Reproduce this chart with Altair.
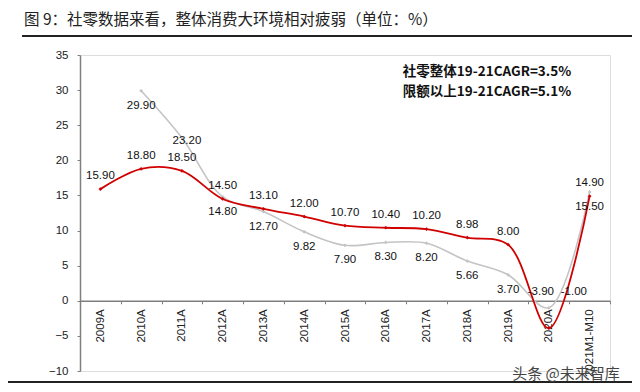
import altair as alt
import pandas as pd

categories = ["2009A", "2010A", "2011A", "2012A", "2013A", "2014A", "2015A",
              "2016A", "2017A", "2018A", "2019A", "2020A", "2021M1-M10"]
red_values = [15.90, 18.80, 18.50, 14.50, 13.10, 12.00, 10.70, 10.40, 10.20, 8.98, 8.00, -3.90, 14.90]
gray_values = [None, 29.90, 23.20, 14.80, 12.70, 9.82, 7.90, 8.30, 8.20, 5.66, 3.70, -1.00, 15.50]
y_ticks = [-10, -5, 0, 5, 10, 15, 20, 25, 30, 35]

title_text = "图 9：社零数据来看，整体消费大环境相对疲弱（单位：%）"
note_lines = ["社零整体19-21CAGR=3.5%", "限额以上19-21CAGR=5.1%"]
watermark = "头条 @未来智库"

W, H = 530, 316
YMIN, YMAX = -10, 35
RED = "#d00000"
GRAY = "#c4c4c4"
FONT = "Liberation Sans"
CJK = "Noto Sans CJK SC"

red_df = pd.DataFrame({"cat": categories, "v": red_values})
red_df["lab"] = red_df["v"].map(lambda x: f"{x:.2f}")
gray_df = pd.DataFrame({"cat": categories, "v": gray_values}).dropna()
gray_df["lab"] = gray_df["v"].map(lambda x: f"{x:.2f}")

zero_offset = -(H - H * (YMAX - 0) / (YMAX - YMIN))

x_enc = alt.X("cat:N", sort=categories,
              scale=alt.Scale(type="band", paddingInner=0, paddingOuter=0),
              axis=alt.Axis(title=None, labelAngle=270, offset=zero_offset,
                            tickBand="extent", domainColor="#7f7f7f", domainWidth=1.5,
                            tickColor="#7f7f7f", tickSize=3, labelFont=FONT,
                            labelFontSize=11.5, labelColor="#222", labelPadding=5,
                            labelOverlap=False))
y_enc = alt.Y("v:Q", scale=alt.Scale(domain=[YMIN, YMAX], nice=False, zero=False),
              axis=alt.Axis(title=None, values=y_ticks, grid=False, domainColor="#7f7f7f",
                            domainWidth=1.5, tickColor="#7f7f7f", tickSize=3,
                            labelFont=FONT, labelFontSize=11.5, labelColor="#222",
                            labelPadding=9, labelOverlap=False))

base_red = alt.Chart(red_df)
base_gray = alt.Chart(gray_df)

gray_line = base_gray.mark_line(color=GRAY, strokeWidth=1.6, interpolate="catmull-rom").encode(x=x_enc, y=y_enc)
gray_pts = base_gray.mark_point(color=GRAY, filled=True, size=14, shape="diamond", opacity=1).encode(x=x_enc, y=y_enc)
red_line = base_red.mark_line(color=RED, strokeWidth=1.8, interpolate="catmull-rom").encode(x=x_enc, y=y_enc)
red_pts = base_red.mark_point(color=RED, filled=True, size=14, shape="diamond", opacity=1).encode(x=x_enc, y=y_enc)

def labels(df, dx, dy):
    return alt.Chart(df).mark_text(font=FONT, fontSize=11.5, color="#111", dx=dx, dy=dy).encode(
        x=x_enc, y=y_enc, text="lab:N")

special_red = ["2020A"]
special_gray = ["2011A", "2020A"]
red_lab = labels(red_df[~red_df["cat"].isin(special_red)], 0, -13)
gray_lab = labels(gray_df[~gray_df["cat"].isin(special_gray)], 0, 15)
red_lab_2020 = labels(red_df[red_df["cat"] == "2020A"], -8, -36)
gray_lab_2011 = labels(gray_df[gray_df["cat"] == "2011A"], 5, 3)
gray_lab_2020 = labels(gray_df[gray_df["cat"] == "2020A"], 25, -16)

def free_text(txt, x, y, **kw):
    return alt.Chart(pd.DataFrame({"t": [txt]})).mark_text(**kw).encode(
        x=alt.value(x), y=alt.value(y), text="t:N")

title = free_text(title_text, -56, -35, font=CJK, fontSize=15.5, color="#222",
                  align="left", baseline="middle")
title_rule = alt.Chart(pd.DataFrame({"a": [0]})).mark_rule(color="#222", strokeWidth=2).encode(
    x=alt.value(-58), x2=alt.value(560), y=alt.value(-19))
bottom_rule = alt.Chart(pd.DataFrame({"a": [0]})).mark_rule(color="#222", strokeWidth=2).encode(
    x=alt.value(-72), x2=alt.value(552), y=alt.value(327))

note1 = free_text(note_lines[0], 407, 17, font=CJK, fontSize=13.5, fontWeight="bold",
                  color="#111", align="center", baseline="middle")
note2 = free_text(note_lines[1], 407, 37, font=CJK, fontSize=13.5, fontWeight="bold",
                  color="#111", align="center", baseline="middle")
wm = free_text(watermark, 486, 319, font=CJK, fontSize=15, color="#444",
               align="center", baseline="middle")

chart = alt.layer(
    gray_line, gray_pts, red_line, red_pts,
    red_lab, gray_lab, red_lab_2020, gray_lab_2011, gray_lab_2020,
    title, title_rule, bottom_rule, note1, note2, wm
).properties(
    width=W, height=H, autosize="none",
    padding={"left": 72, "top": 47, "right": 22, "bottom": 13}
).configure_view(stroke=None).configure(background="white")

chart.save("out.html", embed_options={"renderer": "svg", "actions": False})
